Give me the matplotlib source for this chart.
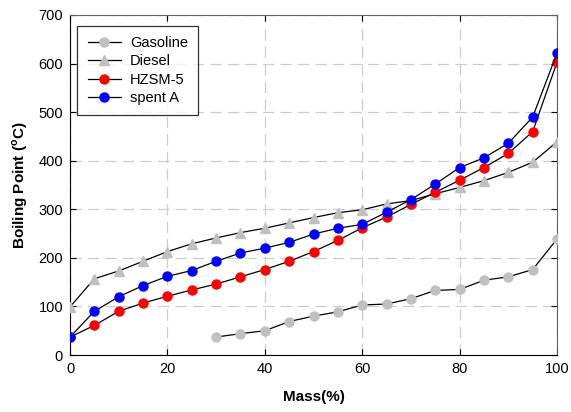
import numpy as np
import matplotlib
matplotlib.use("Agg")
import matplotlib.pyplot as plt

plt.rcParams['font.family'] = ['Liberation Sans', 'DejaVu Sans']

# Data
mass_gas = [30, 35, 40, 45, 50, 55, 60, 65, 70, 75, 80, 85, 90, 95, 100]
gasoline = [37, 44, 50, 69, 80, 89, 103, 105, 116, 133, 135, 154, 161, 176, 239]

mass = [0, 5, 10, 15, 20, 25, 30, 35, 40, 45, 50, 55, 60, 65, 70, 75, 80, 85, 90, 95, 100]
diesel = [99, 157, 173, 193, 213, 229, 241, 252, 261, 272, 283, 293, 299, 311,
          318, 332, 345, 359, 376, 397, 439]
hzsm5 = [37, 61, 90, 107, 121, 134, 146, 161, 176, 193, 213, 236, 262, 284,
         310, 335, 360, 386, 415, 460, 603]
spent_a = [37, 90, 120, 143, 162, 174, 193, 210, 220, 232, 249, 261, 269, 294,
           320, 352, 386, 406, 436, 490, 622]

fig = plt.figure(figsize=(5.71, 4.12), dpi=100)
ax = fig.add_axes([0.1226, 0.1383, 0.853, 0.8253])

ax.plot(mass_gas, gasoline, color='black', lw=0.9, marker='o', ms=6.5,
        mfc='#c0c0c0', mec='#c0c0c0', label='Gasoline', zorder=3)
ax.plot(mass, diesel, color='black', lw=0.9, marker='^', ms=6.5,
        mfc='#c0c0c0', mec='#c0c0c0', label='Diesel', zorder=3)
ax.plot(mass, hzsm5, color='black', lw=0.9, marker='o', ms=6.5,
        mfc='#ff0000', mec='#ff0000', label='HZSM-5', zorder=4)
ax.plot(mass, spent_a, color='black', lw=0.9, marker='o', ms=6.5,
        mfc='#0000ff', mec='#0000ff', label='spent A', zorder=5)

ax.set_xlim(0, 100)
ax.set_ylim(0, 700)
ax.set_xticks(np.arange(0, 101, 20))
ax.set_yticks(np.arange(0, 701, 100))
ax.grid(True, color='#cccccc', linestyle=(0, (9, 5)), lw=0.9)
ax.set_axisbelow(True)

ax.tick_params(direction='in', top=True, right=True, length=4, labelsize=10.5,
               pad=5)
for s in ['top', 'right']:
    ax.spines[s].set_color('#606060')
for s in ['left', 'bottom']:
    ax.spines[s].set_color('black')

ax.set_xlabel('Mass(%)', fontsize=11, fontweight='bold', labelpad=10)
ax.set_ylabel('Boiling Point ($^\\mathregular{o}$C)', fontsize=11,
              fontweight='bold', labelpad=6)

leg = ax.legend(loc='upper left', fontsize=10.5, frameon=True, fancybox=False,
                edgecolor='black', borderpad=0.7, labelspacing=0.3,
                handlelength=2.3, handletextpad=0.6,
                bbox_to_anchor=(0.0, 0.99))
leg.get_frame().set_linewidth(0.9)

fig.savefig('out.png', dpi=100)
